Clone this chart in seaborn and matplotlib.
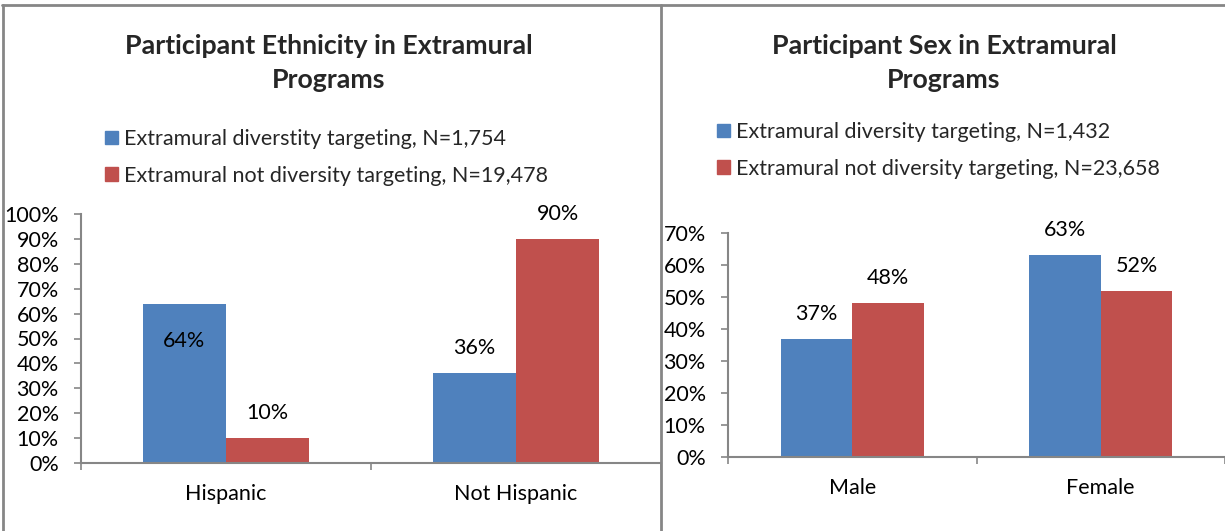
import matplotlib
matplotlib.use("Agg")
import matplotlib.pyplot as plt
import matplotlib.ticker as mticker
from matplotlib.lines import Line2D
import seaborn as sns
import pandas as pd

# ---------------- data ----------------
eth_categories = ["Hispanic", "Not Hispanic"]
eth_series = ["Extramural diverstity targeting, N=1,754",
              "Extramural not diversity targeting, N=19,478"]
eth_targeting = [0.64, 0.36]
eth_not_targeting = [0.10, 0.90]
eth_title = "Participant Ethnicity in Extramural\nPrograms"

sex_categories = ["Male", "Female"]
sex_series = ["Extramural diversity targeting, N=1,432",
              "Extramural not diversity targeting, N=23,658"]
sex_targeting = [0.37, 0.63]
sex_not_targeting = [0.48, 0.52]
sex_title = "Participant Sex in Extramural\nPrograms"

eth_yticks = [0, 0.1, 0.2, 0.3, 0.4, 0.5, 0.6, 0.7, 0.8, 0.9, 1.0]
sex_yticks = [0, 0.1, 0.2, 0.3, 0.4, 0.5, 0.6, 0.7]

# ---------------- style ----------------
sns.set_theme(style="white")
plt.rcParams["font.family"] = ["Lato", "DejaVu Sans"]
BLUE = "#4F81BD"
RED = "#C0504D"
GRAY = "#868686"
FS = 15.5

W, H = 1225, 531
fig = plt.figure(figsize=(W / 100, H / 100), dpi=100)
fig.patch.set_facecolor("white")


def px_axes(x0, x1, ytop, ybot):
    return fig.add_axes([x0 / W, 1 - ybot / H, (x1 - x0) / W, (ybot - ytop) / H])


def panel(ax, cats, series, v1, v2, yticks, inside_flags):
    df = pd.DataFrame({
        "cat": cats * 2,
        "series": [series[0]] * len(cats) + [series[1]] * len(cats),
        "value": list(v1) + list(v2),
    })
    sns.barplot(data=df, x="cat", y="value", hue="series", order=cats,
                hue_order=series, palette=[BLUE, RED], width=0.574,
                saturation=1, linewidth=0, ax=ax)
    ax.set_xlim(-0.5, len(cats) - 0.5)
    ax.set_ylim(0, yticks[-1])
    ax.set_yticks(yticks)
    ax.yaxis.set_major_formatter(mticker.PercentFormatter(1.0, decimals=0))
    ax.set_xlabel("")
    ax.set_ylabel("")
    for s in ["top", "right"]:
        ax.spines[s].set_visible(False)
    for s in ["left", "bottom"]:
        ax.spines[s].set_color(GRAY)
        ax.spines[s].set_linewidth(1.5)
    ax.tick_params(axis="y", which="major", left=True, length=5, width=1.2,
                   color=GRAY, pad=11, labelsize=FS, labelcolor="black")
    ax.tick_params(axis="x", which="major", bottom=False, length=0, pad=15,
                   labelsize=FS, labelcolor="black")
    ax.set_xticks([i - 0.5 for i in range(len(cats) + 1)], minor=True)
    ax.tick_params(axis="x", which="minor", bottom=True, length=5, width=1.2,
                   color=GRAY)
    ax.spines["left"].set_bounds(0, yticks[-1])
    leg = ax.get_legend()
    if leg is not None:
        leg.remove()
    vals = [v1, v2]
    for si, cont in enumerate(ax.containers):
        for bi, bar in enumerate(cont):
            xc = bar.get_x() + bar.get_width() / 2
            h = bar.get_height()
            inside = inside_flags[si][bi]
            off = -27 if inside else 18
            ax.annotate(f"{vals[si][bi] * 100:.0f}%", xy=(xc, h),
                        xytext=(0, off), textcoords="offset points",
                        ha="center", va="center", fontsize=FS, color="black")
    return ax


# left panel
axL = px_axes(81, 661, 214, 463)
panel(axL, eth_categories, eth_series, eth_targeting, eth_not_targeting,
      eth_yticks, [[True, False], [False, False]])

# right panel
axR = px_axes(728, 1225, 233, 457)
panel(axR, sex_categories, sex_series, sex_targeting, sex_not_targeting,
      sex_yticks, [[False, False], [False, False]])

# titles
fig.text(329 / W, 1 - 63 / H, eth_title, ha="center", va="center",
         fontsize=19.3, fontweight="bold", linespacing=1.48)
fig.text(944 / W, 1 - 63 / H, sex_title, ha="center", va="center",
         fontsize=19.3, fontweight="bold", linespacing=1.48)

# legends
def add_legend(series, x_px, y_px):
    handles = [plt.Rectangle((0, 0), 1, 1, color=BLUE),
               plt.Rectangle((0, 0), 1, 1, color=RED)]
    fig.legend(handles, series, loc="upper left",
               bbox_to_anchor=(x_px / W, 1 - y_px / H),
               frameon=False, fontsize=FS, handlelength=0.6, handleheight=0.6,
               handletextpad=0.3, labelspacing=0.78, borderpad=0,
               borderaxespad=0)

add_legend(eth_series, 105, 129)
add_legend(sex_series, 717, 122)

# chart frames
lw = 2
fig.add_artist(Line2D([2 / W, 1], [1 - 4.5 / H] * 2, color=GRAY, lw=lw,
                      transform=fig.transFigure))
fig.add_artist(Line2D([2.5 / W] * 2, [0, 1 - 4.5 / H], color=GRAY, lw=lw,
                      transform=fig.transFigure))
fig.add_artist(Line2D([661 / W] * 2, [0, 1 - 4.5 / H], color=GRAY, lw=lw,
                      transform=fig.transFigure))

fig.savefig("out.png", dpi=100, facecolor="white")
